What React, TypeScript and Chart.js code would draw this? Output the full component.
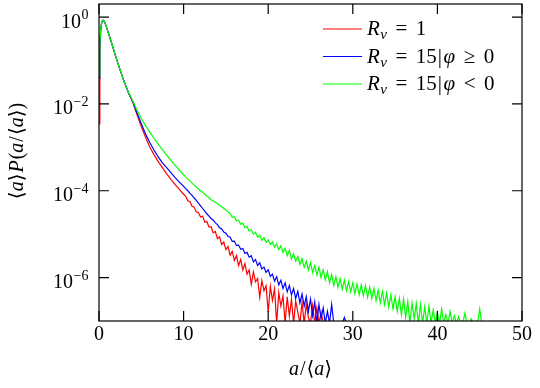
import React, { useEffect, useRef } from "react";
import { Chart, registerables } from "chart.js";

Chart.register(...registerables);

// ---------- data ----------
const aValues = [
  0, 0.1, 0.2, 0.3, 0.4, 0.5, 0.6, 0.8, 1, 1.5, 2, 2.5, 3, 3.5, 4, 4.5, 5, 5.5, 6, 6.5, 7, 7.5, 8, 8.5, 9, 9.5, 10,
  10.25, 10.5, 10.75, 11, 11.25, 11.5, 11.75, 12, 12.25, 12.5, 12.75, 13, 13.25, 13.5, 13.75, 14, 14.25, 14.5, 14.75,
  15, 15.25, 15.5, 15.75, 16, 16.25, 16.5, 16.75, 17, 17.25, 17.5, 17.75, 18, 18.25, 18.5, 18.75, 19, 19.25, 19.5,
  19.75, 20, 20.25, 20.5, 20.75, 21, 21.25, 21.5, 21.75, 22, 22.25, 22.5, 22.75, 23, 23.25, 23.5, 23.75, 24, 24.25,
  24.5, 24.75, 25, 25.25, 25.5, 25.75, 26, 26.25, 26.5, 26.75, 27, 27.25, 27.5, 27.75, 28, 28.25, 28.5, 28.75, 29,
  29.25, 29.5, 29.75, 30, 30.25, 30.5, 30.75, 31, 31.25, 31.5, 31.75, 32, 32.25, 32.5, 32.75, 33, 33.25, 33.5, 33.75,
  34, 34.25, 34.5, 34.75, 35, 35.25, 35.5, 35.75, 36, 36.25, 36.5, 36.75, 37, 37.25, 37.5, 37.75, 38, 38.25, 38.5,
  38.75, 39, 39.25, 39.5, 39.75, 40, 40.25, 40.5, 40.75, 41, 41.25, 41.5, 41.75, 42, 42.25, 42.5, 42.75, 43, 43.25,
  43.5, 43.75, 44, 44.25, 44.5, 44.75, 45, 45.25,
];

const redValues: (number | null)[] = [
  3.5e-3, 0.2, 0.5, 0.72, 0.83, 0.85, 0.81, 0.66, 0.5, 0.25, 0.12, 6.0e-2, 3.16e-2, 1.78e-2, 1.07e-2, 5.6e-3, 3.0e-3,
  1.7e-3, 1.02e-3, 6.8e-4, 4.7e-4, 3.4e-4, 2.45e-4, 1.82e-4, 1.38e-4, 1.07e-4, 8.3e-5,
  7.4e-5, 5.9e-5, 5.6e-5, 4.4e-5, 4.2e-5, 3.24e-5, 3.16e-5, 2.5e-5, 2.6e-5, 1.9e-5, 1.95e-5, 1.45e-5, 1.48e-5,
  1.07e-5, 1.15e-5, 7.9e-6, 8.7e-6, 5.8e-6, 6.6e-6, 4.4e-6, 5.2e-6, 3.3e-6, 4.0e-6, 2.5e-6, 3.2e-6, 1.9e-6, 2.6e-6,
  1.5e-6, 2.1e-6, 1.2e-6, 1.5e-6, 7.0e-7, 1.35e-6, 8.0e-7, 9.5e-7, 3.5e-7, 8.5e-7, 5.0e-7, 6.5e-7, 1.6e-7, 6.3e-7,
  3.0e-7, 5.5e-7, 8.9e-8, 4.5e-7, 2.2e-7, 3.8e-7, 8.9e-8, 3.6e-7, 1.3e-7, 3.2e-7, 8.9e-8, 2.9e-7, 1.6e-7, 8.9e-8,
  2.7e-7, 8.9e-8, 2.4e-7, 1.2e-7, 8.9e-8, 2.3e-7, 8.9e-8, 2.0e-7, 8.9e-8, 1.6e-7, 8.9e-8,
];

const blueValues: (number | null)[] = [
  4.0e-2, 0.21, 0.5, 0.72, 0.83, 0.85, 0.81, 0.66, 0.5, 0.25, 0.12, 6.0e-2, 3.16e-2, 1.78e-2, 1.12e-2, 6.2e-3,
  3.5e-3, 2.04e-3, 1.29e-3, 8.7e-4, 6.0e-4, 4.4e-4, 3.4e-4, 2.6e-4, 2.0e-4, 1.58e-4, 1.26e-4,
  1.12e-4, 1.0e-4, 8.7e-5, 7.8e-5, 6.8e-5, 6.0e-5, 5.2e-5, 4.5e-5, 3.9e-5, 3.4e-5, 2.95e-5, 2.6e-5, 2.3e-5,
  2.1e-5, 1.82e-5, 1.66e-5, 1.41e-5, 1.32e-5, 1.12e-5, 1.05e-5, 8.9e-6, 8.5e-6, 6.8e-6, 6.9e-6, 5.5e-6, 5.6e-6,
  4.5e-6, 4.7e-6, 3.6e-6, 3.8e-6, 2.95e-6, 3.2e-6, 2.3e-6, 2.6e-6, 1.9e-6, 2.2e-6, 1.58e-6, 1.74e-6, 1.32e-6,
  1.51e-6, 1.07e-6, 1.2e-6, 8.3e-7, 1.05e-6, 6.8e-7, 8.7e-7, 5.6e-7, 7.6e-7, 4.7e-7, 6.6e-7, 4.0e-7, 5.6e-7, 3.3e-7,
  4.8e-7, 2.6e-7, 4.2e-7, 2.2e-7, 3.6e-7, 1.66e-7, 3.2e-7, 1.32e-7, 2.75e-7, 8.9e-8, 2.4e-7, 1.12e-7, 2.0e-7, 8.9e-8,
  1.66e-7, 8.9e-8, 2.4e-7, 8.9e-8, null, null, null, 8.9e-8, 1.2e-7, 8.9e-8,
];

const greenValues: (number | null)[] = [
  4.4e-2, 0.24, 0.52, 0.74, 0.83, 0.85, 0.81, 0.66, 0.5, 0.25, 0.12, 6.0e-2, 3.16e-2, 1.82e-2, 1.17e-2, 7.1e-3,
  4.6e-3, 3.16e-3, 2.24e-3, 1.62e-3, 1.19e-3, 8.8e-4, 6.6e-4, 5.0e-4, 3.85e-4, 2.99e-4, 2.34e-4,
  2.09e-4, 1.86e-4, 1.66e-4, 1.5e-4, 1.35e-4, 1.22e-4, 1.1e-4, 1.0e-4, 9.2e-5, 8.3e-5, 7.6e-5, 7.0e-5, 6.2e-5,
  5.9e-5, 5.4e-5, 5.0e-5, 4.7e-5, 4.3e-5, 3.9e-5, 3.6e-5, 3.3e-5, 3.0e-5, 2.45e-5, 2.5e-5, 2.04e-5, 2.09e-5,
  1.7e-5, 1.78e-5, 1.41e-5, 1.51e-5, 1.17e-5, 1.26e-5, 1.0e-5, 1.1e-5, 8.5e-6, 9.5e-6, 7.2e-6, 8.3e-6, 6.5e-6,
  7.4e-6, 5.8e-6, 6.6e-6, 5.0e-6, 6.0e-6, 4.4e-6, 5.4e-6, 3.8e-6, 4.7e-6, 3.2e-6, 4.2e-6, 2.7e-6, 3.5e-6, 2.4e-6,
  3.1e-6, 2.0e-6, 2.7e-6, 1.74e-6, 2.4e-6, 1.48e-6, 2.2e-6, 1.32e-6, 1.9e-6, 1.15e-6, 1.74e-6, 1.0e-6, 1.51e-6,
  8.9e-7, 1.38e-6, 7.6e-7, 1.17e-6, 6.6e-7, 1.05e-6, 6.0e-7, 9.3e-7, 5.4e-7, 8.7e-7, 5.0e-7, 8.1e-7, 4.7e-7, 7.6e-7,
  4.3e-7, 7.1e-7, 4.0e-7, 6.8e-7, 3.8e-7, 6.5e-7, 3.5e-7, 6.0e-7, 3.3e-7, 5.6e-7, 2.95e-7, 5.2e-7, 2.6e-7, 4.8e-7,
  2.4e-7, 4.4e-7, 2.1e-7, 4.0e-7, 1.9e-7, 3.6e-7, 1.66e-7, 3.3e-7, 1.4e-7, 3.2e-7, 1.2e-7, 2.8e-7, 8.9e-8, 2.6e-7,
  1.12e-7, 2.5e-7, 8.9e-8, 2.4e-7, 8.9e-8, 2.1e-7, 8.9e-8, 2.2e-7, 8.9e-8, 1.78e-7, 8.9e-8, 1.58e-7, 8.9e-8, 1.9e-7,
  8.9e-8, 1.4e-7, 8.9e-8, 1.66e-7, 8.9e-8, 1.32e-7, 8.9e-8, 1.26e-7, 8.9e-8, 8.9e-8, 1.51e-7, 8.9e-8, 8.9e-8, 1.12e-7,
  8.9e-8, null, 8.9e-8, 1.9e-7, 8.9e-8,
];

const seriesLabels = ["Rν = 1", "Rν = 15|φ ≥ 0", "Rν = 15|φ < 0"];
const seriesColors = ["#ff0000", "#0000ff", "#00ff00"];

const xTickValues = [0, 10, 20, 30, 40, 50];
const xTickLabels = ["0", "10", "20", "30", "40", "50"];
const yTickValues = [1, 1e-2, 1e-4, 1e-6];
const yTickExponents = ["0", "\u22122", "\u22124", "\u22126"];

type Run = { t: string; it?: boolean; s?: number; dy?: number; pre?: number };

const legendRuns: Run[][] = [
  [{ t: "R", it: true }, { t: "ν", it: true, s: 0.72, dy: 4, pre: 0.5 }, { t: "=", pre: 8.5 }, { t: "1", pre: 8.5 }],
  [
    { t: "R", it: true }, { t: "ν", it: true, s: 0.72, dy: 4, pre: 0.5 }, { t: "=", pre: 8.5 }, { t: "15", pre: 8.5 },
    { t: "|", pre: 1 }, { t: "φ", it: true, pre: 1.5 }, { t: "≥", pre: 8.5 }, { t: "0", pre: 8.5 },
  ],
  [
    { t: "R", it: true }, { t: "ν", it: true, s: 0.72, dy: 4, pre: 0.5 }, { t: "=", pre: 8.5 }, { t: "15", pre: 8.5 },
    { t: "|", pre: 1 }, { t: "φ", it: true, pre: 1.5 }, { t: "<", pre: 8.5 }, { t: "0", pre: 8.5 },
  ],
];

const xTitleRuns: Run[] = [
  { t: "a", it: true }, { t: "/", pre: 1 }, { t: "⟨", pre: 1 }, { t: "a", it: true }, { t: "⟩" },
];
const yTitleRuns: Run[] = [
  { t: "⟨" }, { t: "a", it: true }, { t: "⟩" }, { t: "P", it: true, pre: 1 }, { t: "(", pre: 1 },
  { t: "a", it: true }, { t: "/", pre: 1 }, { t: "⟨", pre: 1 }, { t: "a", it: true }, { t: "⟩" }, { t: ")" },
];

const FAM = "'Liberation Serif', 'DejaVu Serif', serif";
const BASE = 20;
const LEGEND_BASE = 21;

function runFont(r: Run, base: number) {
  return `${r.it ? "italic " : ""}${Math.round((r.s ?? 1) * base * 10) / 10}px ${FAM}`;
}
function runsWidth(ctx: CanvasRenderingContext2D, runs: Run[], base: number) {
  let w = 0;
  for (const r of runs) {
    ctx.font = runFont(r, base);
    w += (r.pre ?? 0) + ctx.measureText(r.t).width;
  }
  return w;
}
function drawRuns(ctx: CanvasRenderingContext2D, runs: Run[], x: number, y: number, base: number) {
  let cx = x;
  for (const r of runs) {
    ctx.font = runFont(r, base);
    cx += r.pre ?? 0;
    ctx.fillText(r.t, cx, y + (r.dy ?? 0));
    cx += ctx.measureText(r.t).width;
  }
}

const decorPlugin = {
  id: "decor",
  afterDraw(chart: any) {
    const ctx: CanvasRenderingContext2D = chart.ctx;
    const { left, right, top, bottom } = chart.chartArea;
    const xs = chart.scales.x;
    const ys = chart.scales.y;
    ctx.save();
    ctx.strokeStyle = "#000";
    ctx.fillStyle = "#000";
    ctx.lineWidth = 1.2;
    ctx.strokeRect(left, top, right - left, bottom - top);
    const TL = 10;
    ctx.beginPath();
    for (const v of xTickValues) {
      const px = xs.getPixelForValue(v);
      ctx.moveTo(px, bottom);
      ctx.lineTo(px, bottom - TL);
      ctx.moveTo(px, top);
      ctx.lineTo(px, top + TL);
    }
    for (const v of yTickValues) {
      const py = ys.getPixelForValue(v);
      ctx.moveTo(left, py);
      ctx.lineTo(left + TL, py);
      ctx.moveTo(right, py);
      ctx.lineTo(right - TL, py);
    }
    ctx.stroke();

    // x tick labels
    ctx.textBaseline = "alphabetic";
    ctx.textAlign = "center";
    ctx.font = `${BASE}px ${FAM}`;
    xTickValues.forEach((v, i) => {
      ctx.fillText(xTickLabels[i], xs.getPixelForValue(v), bottom + 18.5);
    });

    // y tick labels (10^n)
    ctx.textAlign = "left";
    yTickValues.forEach((v, i) => {
      const py = ys.getPixelForValue(v);
      const runs: Run[] = [{ t: "10" }, { t: yTickExponents[i], s: 0.7, dy: -8.5, pre: 0.5 }];
      const w = runsWidth(ctx, runs, BASE);
      drawRuns(ctx, runs, left - 10.5 - w, py + 10.5, BASE);
    });

    // x title
    const wx = runsWidth(ctx, xTitleRuns, BASE);
    drawRuns(ctx, xTitleRuns, (left + right) / 2 - wx / 2, 375, BASE);

    // y title
    ctx.save();
    ctx.translate(22.5, 151);
    ctx.rotate(-Math.PI / 2);
    const wy = runsWidth(ctx, yTitleRuns, BASE);
    drawRuns(ctx, yTitleRuns, -wy / 2, 0, BASE);
    ctx.restore();

    // legend
    const rowY = [29, 56.5, 84];
    legendRuns.forEach((runs, i) => {
      ctx.strokeStyle = seriesColors[i];
      ctx.lineWidth = 1.2;
      ctx.beginPath();
      ctx.moveTo(323, rowY[i]);
      ctx.lineTo(362, rowY[i]);
      ctx.stroke();
      ctx.fillStyle = "#000";
      drawRuns(ctx, runs, 367, rowY[i] + 6, LEGEND_BASE);
    });
    ctx.restore();
  },
};

function toPoints(vals: (number | null)[]) {
  return vals.map((v, i) => ({ x: aValues[i], y: v }));
}

export default function App() {
  const ref = useRef<HTMLCanvasElement | null>(null);
  useEffect(() => {
    if (!ref.current) return;
    const seriesValues = [redValues, blueValues, greenValues];
    const chart = new Chart(ref.current, {
      type: "line",
      data: {
        datasets: seriesValues.map((vals, i) => ({
          label: seriesLabels[i],
          data: toPoints(vals) as any,
          borderColor: seriesColors[i],
          backgroundColor: seriesColors[i],
          borderWidth: 1.2,
          pointRadius: 0,
          tension: 0,
          spanGaps: false,
          order: 3 - i,
        })),
      },
      options: {
        responsive: false,
        animation: false,
        events: [],
        layout: { padding: { top: 4, right: 18, left: 0, bottom: 0 } },
        plugins: { legend: { display: false }, tooltip: { enabled: false } },
        scales: {
          x: {
            type: "linear",
            min: 0,
            max: 50,
            ticks: { display: false },
            grid: { display: false },
            border: { display: false },
            afterBuildTicks: (s: any) => {
              s.ticks = xTickValues.map((v) => ({ value: v }));
            },
            afterFit: (s: any) => {
              s.height = 67;
            },
          },
          y: {
            type: "logarithmic",
            min: 1e-7,
            max: 2,
            ticks: { display: false },
            grid: { display: false },
            border: { display: false },
            afterBuildTicks: (s: any) => {
              s.ticks = yTickValues.map((v) => ({ value: v }));
            },
            afterFit: (s: any) => {
              s.width = 99;
            },
          },
        },
      } as any,
      plugins: [decorPlugin],
    });
    return () => chart.destroy();
  }, []);
  return (
    <div style={{ position: "absolute", left: 0, top: 0, width: 540, height: 388, background: "#fff" }}>
      <canvas ref={ref} width={540} height={388} style={{ width: 540, height: 388, display: "block" }} />
    </div>
  );
}
